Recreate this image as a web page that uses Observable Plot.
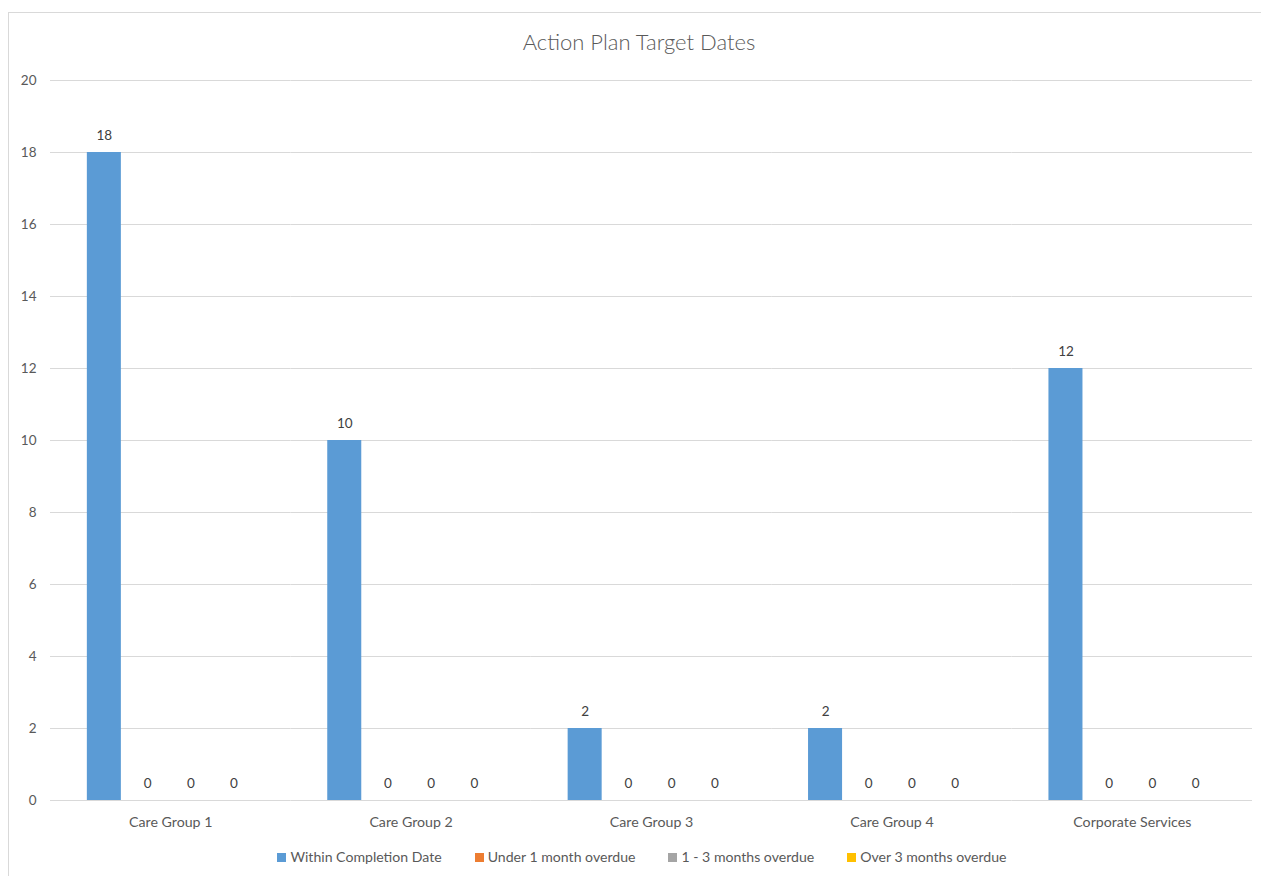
<!DOCTYPE html>
<html>
<head>
<meta charset="utf-8">
<script src="https://cdn.jsdelivr.net/npm/d3@7"></script>
<script src="https://cdn.jsdelivr.net/npm/@observablehq/plot@0.6"></script>
<style>
  html, body { margin: 0; padding: 0; background: #fff; overflow: hidden; }
  body { width: 1261px; height: 876px; position: relative; font-family: Lato, "Open Sans", sans-serif; color: #595959; }
  #frame { position: absolute; left: 8px; top: 12px; width: 1300px; height: 900px; border: 1px solid #d9d9d9; box-sizing: border-box; }
  #title { position: absolute; left: 0; top: 27px; width: 1278px; text-align: center; font-size: 22px; font-weight: 300; line-height: 30px; color: #595959; }
  #chart { position: absolute; left: 0; top: 60px; }
  #legend { position: absolute; left: 0; top: 848px; width: 1284px; display: flex; justify-content: center; gap: 33px; font-size: 14.1px; line-height: 18px; color: #595959; }
  #legend .item { display: flex; align-items: center; gap: 4px; }
  #legend .sw { width: 9px; height: 9px; display: inline-block; }
</style>
</head>
<body>
<div id="frame"></div>
<div id="title">Action Plan Target Dates</div>
<div id="chart"></div>
<div id="legend"></div>
<script>
const categories = ["Care Group 1", "Care Group 2", "Care Group 3", "Care Group 4", "Corporate Services"];
const seriesNames = ["Within Completion Date", "Under 1 month overdue", "1 - 3 months overdue", "Over 3 months overdue"];
const seriesColors = ["#5b9bd5", "#ed7d31", "#a5a5a5", "#ffc000"];
const withinCompletion = [18, 10, 2, 2, 12];
const under1Month = [0, 0, 0, 0, 0];
const oneToThreeMonths = [0, 0, 0, 0, 0];
const over3Months = [0, 0, 0, 0, 0];
const yTicks = [0, 2, 4, 6, 8, 10, 12, 14, 16, 18, 20];

const seriesValues = [withinCompletion, under1Month, oneToThreeMonths, over3Months];
const data = [];
categories.forEach((c, i) => {
  seriesNames.forEach((s, j) => {
    data.push({category: c, series: s, value: seriesValues[j][i]});
  });
});

const font = "Lato, 'Open Sans', sans-serif";
const chart = Plot.plot({
  width: 1261,
  height: 780,
  marginTop: 20,
  marginBottom: 40,
  marginLeft: 50,
  marginRight: 9,
  style: {fontFamily: font, fontSize: "13px", color: "#595959", background: "transparent"},
  fx: {domain: categories, padding: 0, label: null, round: false},
  x: {domain: seriesNames, paddingInner: 0.213, paddingOuter: 0.887, axis: null, round: false},
  y: {domain: [0, 20], ticks: yTicks, label: null},
  color: {domain: seriesNames, range: seriesColors},
  marks: [
    Plot.gridY(yTicks, {stroke: "#d9d9d9", strokeOpacity: 1, strokeWidth: 1}),
    Plot.axisY(yTicks, {tickSize: 0, tickPadding: 14, fill: "#595959", fontSize: 13.5, label: null}),
    Plot.axisFx({anchor: "bottom", tickSize: 0, tickPadding: 16, fill: "#595959", fontSize: 14.2, label: null}),
    Plot.barY(data, {fx: "category", x: "series", y: "value", fill: "series", dx: -1.5}),
    Plot.text(data, {fx: "category", x: "series", y: "value", text: d => String(d.value), dx: -1.5, dy: -17, fill: "#404040", fontSize: 13.5, lineAnchor: "middle"})
  ]
});
document.getElementById("chart").appendChild(chart);

const legend = document.getElementById("legend");
seriesNames.forEach((s, j) => {
  const item = document.createElement("div");
  item.className = "item";
  const sw = document.createElement("span");
  sw.className = "sw";
  sw.style.background = seriesColors[j];
  const t = document.createElement("span");
  t.textContent = s;
  item.appendChild(sw);
  item.appendChild(t);
  legend.appendChild(item);
});
</script>
</body>
</html>
